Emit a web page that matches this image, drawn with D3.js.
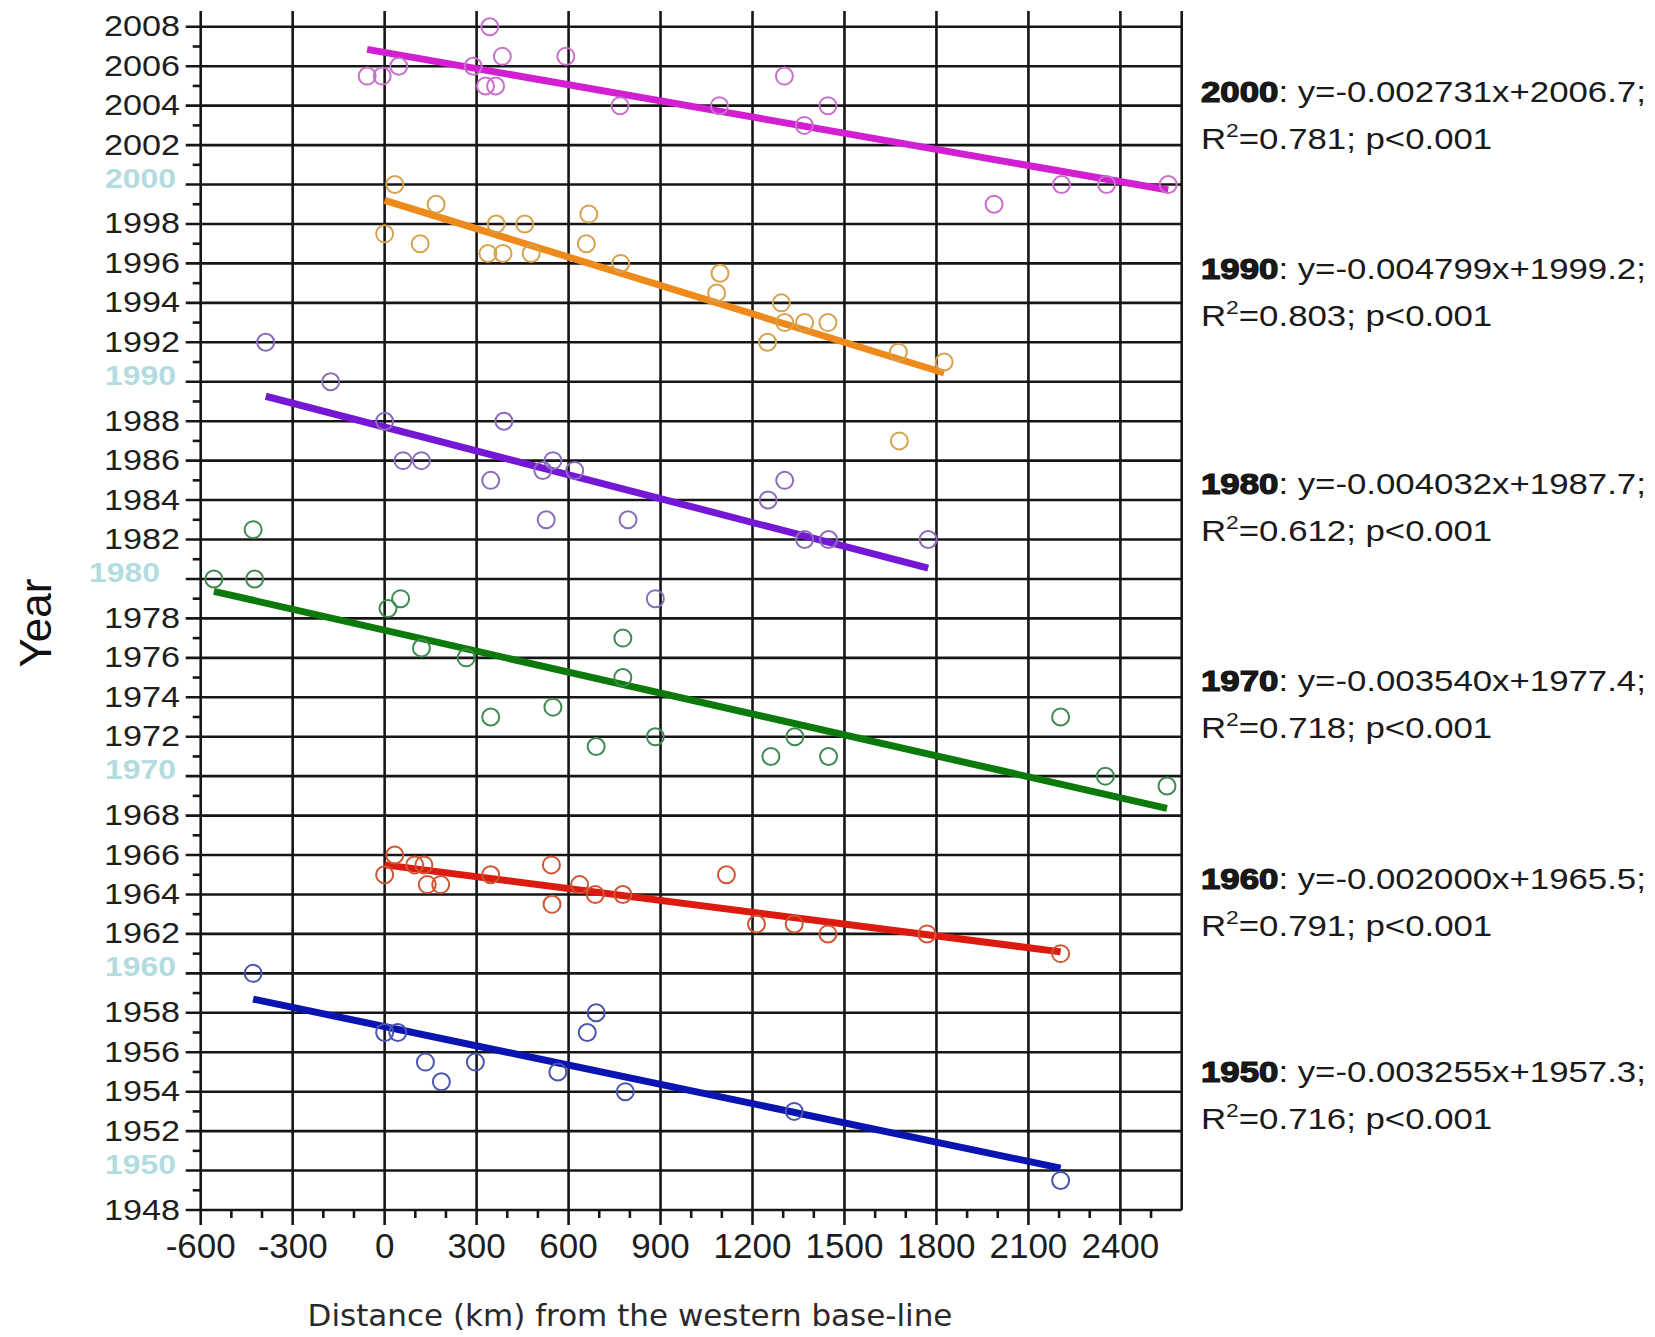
<!DOCTYPE html>
<html>
<head>
<meta charset="utf-8">
<script src="https://cdn.jsdelivr.net/npm/d3@7/dist/d3.min.js"></script>
<style>
  body { margin: 0; background: #fff; }
  svg { display: block; }
</style>
</head>
<body>
<div id="chart"></div>
<script>
// decade groups
const decades = ["2000", "1990", "1980", "1970", "1960", "1950"];

// distance (km) from the western base-line / year, per decade
const dist2000 = [-57, -8, 46, 289, 343, 384, 329, 362, 591, 768, 1092, 1304, 1369, 1446, 1988, 2208, 2355, 2556];
const year2000 = [2005.5, 2005.5, 2006, 2006, 2008, 2006.5, 2005, 2005, 2006.5, 2004, 2004, 2005.5, 2003, 2004, 1999, 2000, 2000, 2000];

const dist1990 = [33, 0, 168, 116, 364, 457, 666, 658, 337, 386, 478, 770, 1094, 1083, 1294, 1305, 1370, 1446, 1249, 1676, 1825, 1679];
const year1990 = [2000, 1997.5, 1999, 1997, 1998, 1998, 1998.5, 1997, 1996.5, 1996.5, 1996.5, 1996, 1995.5, 1994.5, 1994, 1993, 1993, 1993, 1992, 1991.5, 1991, 1987];

const dist1980 = [-388, -176, 0, 60, 120, 389, 346, 549, 516, 620, 527, 794, 883, 1305, 1251, 1370, 1448, 1773];
const year1980 = [1992, 1990, 1988, 1986, 1986, 1988, 1985, 1986, 1985.5, 1985.5, 1983, 1983, 1979, 1985, 1984, 1982, 1982, 1982];

const dist1970 = [-557, -429, -424, 52, 11, 120, 266, 777, 777, 346, 549, 690, 883, 1338, 1260, 1448, 2205, 2351, 2552];
const year1970 = [1980, 1982.5, 1980, 1979, 1978.5, 1976.5, 1976, 1977, 1975, 1973, 1973.5, 1971.5, 1972, 1972, 1971, 1971, 1973, 1970, 1969.5];

const dist1960 = [33, 0, 98, 128, 139, 183, 346, 544, 546, 636, 687, 777, 1115, 1213, 1336, 1446, 1769, 2205];
const year1960 = [1966, 1965, 1965.5, 1965.5, 1964.5, 1964.5, 1965, 1965.5, 1963.5, 1964.5, 1964, 1964, 1965, 1962.5, 1962.5, 1962, 1962, 1961];

const dist1950 = [-429, 0, 43, 133, 185, 296, 565, 661, 690, 785, 1336, 2205];
const year1950 = [1960, 1957, 1957, 1955.5, 1954.5, 1955.5, 1955, 1957, 1958, 1954, 1953, 1949.5];

// regression results
const slopes = [-0.002731, -0.004799, -0.004032, -0.003540, -0.002000, -0.003255];
const intercepts = [2006.7, 1999.2, 1987.7, 1977.4, 1965.5, 1957.3];
const r2s = ["0.781", "0.803", "0.612", "0.718", "0.791", "0.716"];

// ticks
const xTicks = d3.range(-600, 2401, 300);
const xMinor = d3.range(-500, 2501, 100).filter(d => d % 300 !== 0);
const yTicks = d3.range(1948, 2009, 2);
const yMinor = d3.range(1949, 2008, 2);
const yDecades = [1950, 1960, 1970, 1980, 1990, 2000];

// styling
const lineColors = ["#d21fd2", "#ee8a1c", "#7418d6", "#0b7a0b", "#dc1a10", "#0a14b0"];
const dotColors = ["#c870cc", "#d6a24e", "#8a6cba", "#3f8a52", "#cf5632", "#4a56ae"];
const annotYear = [2004.4, 1995.4, 1984.5, 1974.5, 1964.5, 1954.7];

const distArrays = [dist2000, dist1990, dist1980, dist1970, dist1960, dist1950];
const yearArrays = [year2000, year1990, year1980, year1970, year1960, year1950];

const groups = decades.map((name, i) => ({
  name: name,
  points: distArrays[i].map((d, j) => ({ x: d, y: yearArrays[i][j] })),
  slope: slopes[i],
  intercept: intercepts[i],
  r2: r2s[i]
}));

const W = 1655, H = 1337;
const pLeft = 200.7, pRight = 1181.7, pTop = 11, pBottom = 1210;

const svg = d3.select("#chart").append("svg")
  .attr("width", W)
  .attr("height", H)
  .style("background", "#fff");

const x = d3.scaleLinear().domain([-600, 2600]).range([pLeft, pRight]);
const y = d3.scaleLinear().domain([1948, 2008.8]).range([pBottom, pTop]);

const ink = "#161616";

// grid
const grid = svg.append("g").attr("stroke", ink).attr("stroke-width", 2.6);
grid.selectAll(".vx").data(xTicks).join("line")
  .attr("x1", d => x(d)).attr("x2", d => x(d))
  .attr("y1", pTop).attr("y2", pBottom + 15);
grid.selectAll(".hy").data(yTicks).join("line")
  .attr("x1", pLeft - 15).attr("x2", pRight)
  .attr("y1", d => y(d)).attr("y2", d => y(d));
grid.append("line")
  .attr("x1", pRight).attr("x2", pRight)
  .attr("y1", pTop).attr("y2", pBottom);
// minor ticks
grid.selectAll(".mx").data(xMinor).join("line")
  .attr("x1", d => x(d)).attr("x2", d => x(d))
  .attr("y1", pBottom).attr("y2", pBottom + 8);
grid.selectAll(".my").data(yMinor).join("line")
  .attr("x1", pLeft - 8).attr("x2", pLeft)
  .attr("y1", d => y(d)).attr("y2", d => y(d));

// y tick labels
const ylab = svg.append("g").attr("font-family", "Liberation Sans, Arial, sans-serif");
ylab.selectAll("text").data(yTicks).join("text")
  .attr("transform", d => {
    const dec = yDecades.includes(d);
    const tx = dec ? (d === 1980 ? 160 : 176) : 180;
    const ty = y(d) + (dec ? 3 : 9.5);
    return "translate(" + tx + "," + ty + ") scale(1.14,1)";
  })
  .attr("text-anchor", "end")
  .attr("font-size", d => yDecades.includes(d) ? 28 : 30)
  .attr("font-weight", d => yDecades.includes(d) ? "bold" : "normal")
  .attr("fill", d => yDecades.includes(d) ? "#b2dce0" : "#1e1e1e")
  .text(d => d);

// x tick labels
svg.append("g").selectAll("text").data(xTicks).join("text")
  .attr("x", d => x(d))
  .attr("y", pBottom + 48)
  .attr("text-anchor", "middle")
  .attr("font-family", "Liberation Sans, Arial, sans-serif")
  .attr("font-size", 35)
  .attr("fill", "#1e1e1e")
  .text(d => d);

// axis titles
svg.append("text")
  .attr("transform", "translate(51,623) rotate(-90)")
  .attr("text-anchor", "middle")
  .attr("font-family", "Liberation Sans, Arial, sans-serif")
  .attr("font-size", 44)
  .attr("fill", "#111")
  .text("Year");

svg.append("text")
  .attr("x", 630)
  .attr("y", 1326)
  .attr("text-anchor", "middle")
  .attr("font-family", "DejaVu Sans, sans-serif")
  .attr("font-size", 31)
  .attr("fill", "#2a2a2a")
  .text("Distance (km) from the western base-line");

// regression lines
svg.append("g").selectAll("line").data(groups).join("line")
  .attr("x1", g => x(d3.min(g.points, p => p.x)))
  .attr("x2", g => x(d3.max(g.points, p => p.x)))
  .attr("y1", g => y(g.slope * d3.min(g.points, p => p.x) + g.intercept))
  .attr("y2", g => y(g.slope * d3.max(g.points, p => p.x) + g.intercept))
  .attr("stroke", (g, i) => lineColors[i])
  .attr("stroke-width", 7);

// points
groups.forEach((g, i) => {
  svg.append("g").selectAll("circle").data(g.points).join("circle")
    .attr("cx", p => x(p.x))
    .attr("cy", p => y(p.y))
    .attr("r", 8.5)
    .attr("fill", "none")
    .attr("stroke", dotColors[i])
    .attr("stroke-width", 2);
});

// annotations
const ann = svg.append("g").attr("font-family", "Liberation Sans, Arial, sans-serif")
  .attr("font-size", 29).attr("fill", "#1a1a1a");
groups.forEach((g, i) => {
  const by = y(annotYear[i]) + 4;
  const t1 = ann.append("text")
    .attr("transform", "translate(1201," + by + ") scale(1.2,1)");
  t1.append("tspan").attr("font-weight", "bold").attr("stroke", "#111")
    .attr("stroke-width", 1.2).text(g.name);
  t1.append("tspan").text(": y=" + g.slope.toFixed(6) + "x+" + g.intercept.toFixed(1) + ";");
  const t2 = ann.append("text")
    .attr("transform", "translate(1201," + (by + 47) + ") scale(1.2,1)");
  t2.append("tspan").text("R");
  t2.append("tspan").attr("font-size", 19).attr("dy", -12).text("2");
  t2.append("tspan").attr("dy", 12).text("=" + g.r2 + "; p<0.001");
});
</script>
</body>
</html>
